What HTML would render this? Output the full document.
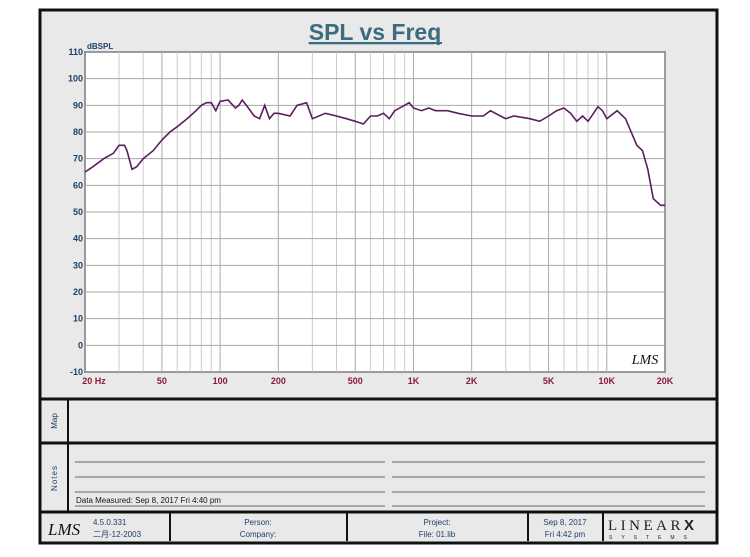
<!DOCTYPE html>
<html><head><meta charset="utf-8"><style>
body{margin:0;background:#fff;width:750px;height:552px;overflow:hidden;font-family:"Liberation Sans","Noto Sans CJK SC",sans-serif}
</style></head><body>
<svg id="s" width="750" height="552" xmlns="http://www.w3.org/2000/svg" font-family="Liberation Sans, Noto Sans CJK SC, sans-serif">
<rect x="40" y="10" width="677" height="533" fill="#e9e9e9" stroke="#111" stroke-width="3"/>
<text x="375" y="40" text-anchor="middle" font-size="23" font-weight="bold" fill="#3a6b80" text-decoration="underline">SPL vs Freq</text>
<line x1="309" y1="43" x2="442" y2="43" stroke="#3a6b80" stroke-width="2"/>
<rect x="85" y="52" width="580" height="320" fill="#fff" stroke="#222" stroke-width="1.5"/>
<g id="grid"></g>
<path id="curve" fill="none" stroke="#5a1e5e" stroke-width="1.6"/>
<text x="87" y="49" font-size="8" fill="#1f3f6b" font-weight="bold">dBSPL</text>
<g id="yl" font-size="9" fill="#1f3f6b" font-weight="bold" text-anchor="end"></g>
<g id="xl" font-size="9" fill="#8b1a3a" font-weight="bold" text-anchor="middle"></g>
<text x="645" y="364" font-size="14" font-style="italic" fill="#111" text-anchor="middle" font-family="Liberation Serif, serif">LMS</text>
<line x1="40" y1="399" x2="717" y2="399" stroke="#111" stroke-width="3"/>
<line x1="40" y1="443" x2="717" y2="443" stroke="#111" stroke-width="3"/>
<line x1="40" y1="512" x2="717" y2="512" stroke="#111" stroke-width="3"/>
<line x1="68" y1="399" x2="68" y2="512" stroke="#111" stroke-width="2"/>
<text transform="translate(57,421) rotate(-90)" font-size="8" fill="#1f3f6b" text-anchor="middle">Map</text>
<text transform="translate(57,478) rotate(-90)" font-size="8" fill="#1f3f6b" text-anchor="middle" letter-spacing="1">Notes</text>
<g stroke="#666" stroke-width="1">
<line x1="75" y1="462" x2="385" y2="462"/><line x1="392" y1="462" x2="705" y2="462"/>
<line x1="75" y1="477" x2="385" y2="477"/><line x1="392" y1="477" x2="705" y2="477"/>
<line x1="75" y1="492" x2="385" y2="492"/><line x1="392" y1="492" x2="705" y2="492"/>
<line x1="75" y1="506" x2="385" y2="506"/><line x1="392" y1="506" x2="705" y2="506"/>
</g>
<text x="76" y="503" font-size="8" fill="#111">Data Measured: Sep  8, 2017  Fri  4:40 pm</text>
<g stroke="#111" stroke-width="2">
<line x1="170" y1="512" x2="170" y2="541"/><line x1="347" y1="512" x2="347" y2="541"/>
<line x1="528" y1="512" x2="528" y2="541"/><line x1="603" y1="512" x2="603" y2="541"/>
</g>
<text x="48" y="535" font-size="17" font-style="italic" fill="#111" font-family="Liberation Serif, serif">LMS</text>
<text x="93" y="525" font-size="8" fill="#1f3f6b">4.5.0.331</text>
<text x="93" y="537" font-size="8" fill="#1f3f6b">二月-12-2003</text>
<text x="258" y="525" font-size="8" fill="#1f3f6b" text-anchor="middle">Person:</text>
<text x="258" y="537" font-size="8" fill="#1f3f6b" text-anchor="middle">Company:</text>
<text x="437" y="525" font-size="8" fill="#1f3f6b" text-anchor="middle">Project:</text>
<text x="437" y="537" font-size="8" fill="#1f3f6b" text-anchor="middle">File: 01.lib</text>
<text x="565" y="525" font-size="8" fill="#1f3f6b" text-anchor="middle">Sep  8, 2017</text>
<text x="565" y="537" font-size="8" fill="#1f3f6b" text-anchor="middle">Fri  4:42 pm</text>
<text x="608" y="530" font-size="15" fill="#222" font-family="Liberation Serif, serif" letter-spacing="3.5">LINEAR<tspan font-weight="bold" font-family="Liberation Sans, sans-serif">X</tspan></text>
<text x="609" y="539" font-size="5" fill="#222" letter-spacing="9">SYSTEMS</text>
</svg>
<script>
var NS="http://www.w3.org/2000/svg";
function X(f){return 85+193.33*Math.log10(f/20);}
function Y(d){return 52+(110-d)*320/120;}
function el(p,t,a,txt){var e=document.createElementNS(NS,t);for(var k in a)e.setAttribute(k,a[k]);if(txt!=null)e.textContent=txt;document.getElementById(p).appendChild(e);}
for(var dec=10;dec<=10000;dec*=10)for(var m=1;m<10;m++){var f=dec*m;if(f<20||f>20000)continue;var x=X(f);
 el("grid","line",{x1:x,y1:52,x2:x,y2:372,stroke:(m==1||m==2||m==5)?"#aaa":"#ccc","stroke-width":1});}
for(var d=-10;d<=110;d+=10){var y=Y(d);el("grid","line",{x1:85,y1:y,x2:665,y2:y,stroke:"#aaa","stroke-width":1});
 el("yl","text",{x:83,y:y+3},String(d));}
var lab=[[20,"20  Hz"],[50,"50"],[100,"100"],[200,"200"],[500,"500"],[1000,"1K"],[2000,"2K"],[5000,"5K"],[10000,"10K"],[20000,"20K"]];
lab.forEach(function(l){el("xl","text",{x:X(l[0])+(l[0]==20?9:0),y:384},l[1]);});
var pts=[[20,65],[22,67],[25,70],[28,72],[30,75],[32,75],[33,73],[35,66],[37,67],[40,70],[45,73],[50,77],[55,80],[60,82],[65,84],[70,86],[75,88],[80,90],[85,91],[90,91],[95,88],[100,91.5],[110,92],[120,89],[125,90],[130,92],[140,89],[150,86],[160,85],[170,90],[180,85],[190,87],[200,87],[230,86],[250,90],[280,91],[300,85],[350,87],[400,86],[450,85],[500,84],[550,83],[600,86],[650,86],[700,87],[750,85],[800,88],[900,90],[950,91],[1000,89],[1100,88],[1200,89],[1300,88],[1500,88],[1700,87],[2000,86],[2300,86],[2500,88],[3000,85],[3300,86],[4000,85],[4500,84],[5000,86],[5500,88],[6000,89],[6500,87],[7000,84],[7500,86],[8000,84],[9000,89.5],[9500,88],[10000,85],[11300,88],[12500,85],[14300,75],[15300,73],[16300,66],[17400,55],[19000,52.5],[20000,52.5]];
document.getElementById("curve").setAttribute("d",pts.map(function(p,i){return (i?"L":"M")+X(p[0]).toFixed(1)+","+Y(p[1]).toFixed(1);}).join(""));
</script>
</body></html>
